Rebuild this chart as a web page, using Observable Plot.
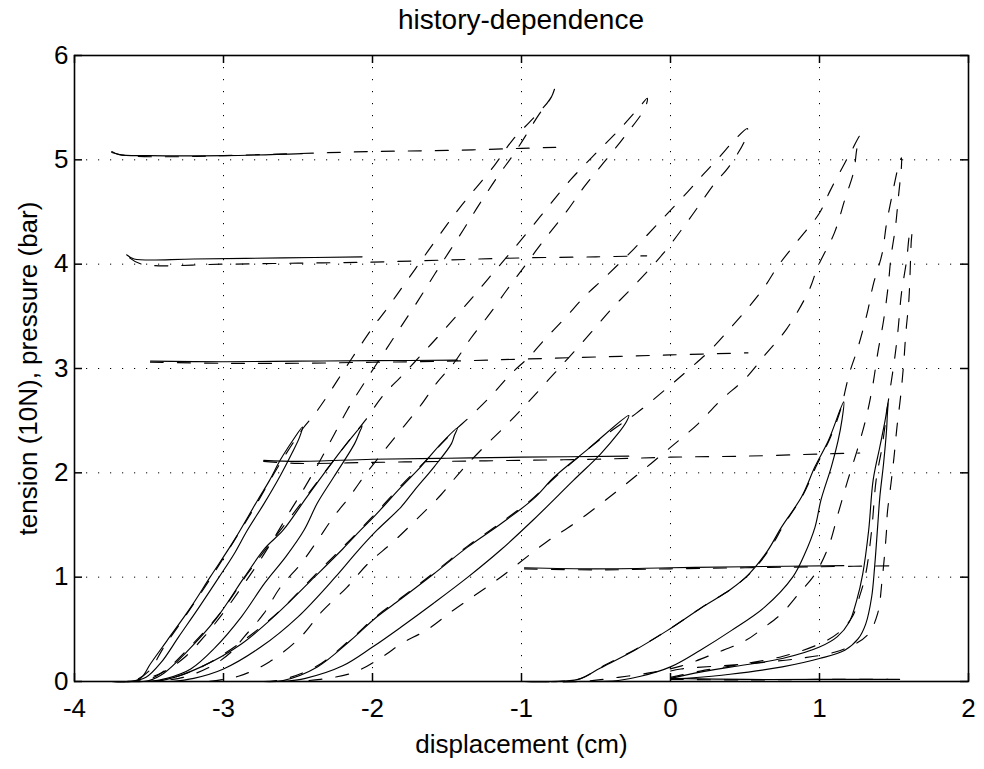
<!DOCTYPE html>
<html><head><meta charset="utf-8">
<script src="https://cdn.jsdelivr.net/npm/d3@7"></script>
<script src="https://cdn.jsdelivr.net/npm/@observablehq/plot@0.6"></script>
<style>
body{margin:0;background:#fff;font-family:"Liberation Sans",Arial,sans-serif;}
#title{position:relative;height:40px;width:984px;}
#title div{position:absolute;left:74px;width:894px;top:4px;text-align:center;font-size:28px;line-height:32px;color:#000;}
</style></head><body>
<div id="title"><div>history-dependence</div></div>
<div id="chart"></div>
<script>
// ---------- tick labels ----------
const xTicks = [-4, -3, -2, -1, 0, 1, 2];
const yTicks = [0, 1, 2, 3, 4, 5, 6];

// ---------- measured tension loops (solid) ----------
const tensionMeasured1 = [[-3.75,0.0],[-3.62,0.0],[-3.55,0.04],[-3.49,0.17],[-3.38,0.39],[-3.22,0.71],[-3.09,1.0],[-2.93,1.35],[-2.77,1.74],[-2.69,1.93],[-2.62,2.12],[-2.54,2.30],[-2.47,2.44],
  [-2.49,2.34],[-2.54,2.19],[-2.62,1.97],[-2.73,1.70],[-2.84,1.45],[-2.93,1.22],[-3.03,1.0],[-3.16,0.72],[-3.30,0.43],[-3.42,0.18],[-3.52,0.04],[-3.62,0.0]];
const tensionMeasured2 = [[-3.65,0.0],[-3.5,0.01],[-3.4,0.08],[-3.25,0.28],[-3.05,0.6],[-2.86,1.0],[-2.72,1.28],[-2.60,1.45],[-2.44,1.77],[-2.26,2.12],[-2.15,2.32],[-2.07,2.45],
  [-2.09,2.38],[-2.12,2.28],[-2.26,1.96],[-2.37,1.71],[-2.46,1.45],[-2.58,1.2],[-2.72,0.95],[-2.88,0.62],[-3.06,0.32],[-3.22,0.12],[-3.38,0.03],[-3.5,0.0]];
const tensionMeasured3 = [[-3.49,0.0],[-3.38,0.02],[-3.15,0.14],[-2.88,0.36],[-2.64,0.65],[-2.39,1.0],[-2.20,1.27],[-2.08,1.45],[-1.99,1.58],[-1.81,1.86],[-1.675,2.06],[-1.54,2.28],[-1.43,2.43],
  [-1.45,2.36],[-1.47,2.28],[-1.585,2.06],[-1.72,1.83],[-1.81,1.67],[-1.97,1.45],[-2.10,1.25],[-2.25,1.0],[-2.5,0.62],[-2.75,0.33],[-3.0,0.12],[-3.2,0.03],[-3.35,0.0]];
const tensionMeasured4 = [[-2.73,0.0],[-2.6,0.01],[-2.37,0.14],[-2.15,0.39],[-1.97,0.62],[-1.81,0.79],[-1.59,1.03],[-1.36,1.29],[-1.14,1.51],[-0.92,1.75],[-0.78,1.96],[-0.56,2.22],[-0.28,2.55],
  [-0.30,2.48],[-0.35,2.38],[-0.47,2.18],[-0.65,1.93],[-0.92,1.55],[-1.14,1.26],[-1.36,1.0],[-1.59,0.75],[-1.81,0.52],[-2.0,0.33],[-2.2,0.15],[-2.45,0.03],[-2.6,0.0]];
const tensionMeasured5 = [[-0.98,0.0],[-0.8,0.0],[-0.62,0.02],[-0.47,0.13],[-0.24,0.30],[-0.02,0.49],[0.21,0.71],[0.40,0.88],[0.52,1.02],[0.65,1.25],[0.745,1.48],[0.88,1.77],[0.97,2.06],[1.06,2.31],[1.163,2.68],
  [1.15,2.5],[1.125,2.31],[1.08,2.06],[1.01,1.74],[0.97,1.48],[0.9,1.22],[0.82,1.0],[0.63,0.71],[0.41,0.49],[0.2,0.3],[0.0,0.14],[-0.2,0.05],[-0.35,0.01],[-0.6,0.0]];
const tensionMeasured6 = [[0.0,0.03],[0.2,0.09],[0.41,0.14],[0.75,0.22],[1.0,0.33],[1.12,0.43],[1.2,0.57],[1.25,0.78],[1.29,1.03],[1.33,1.45],[1.36,1.93],[1.405,2.25],[1.44,2.50],[1.46,2.67],
  [1.455,2.55],[1.45,2.41],[1.43,2.09],[1.405,1.77],[1.39,1.48],[1.37,1.1],[1.35,0.81],[1.31,0.55],[1.26,0.41],[1.17,0.3],[1.0,0.22],[0.75,0.14],[0.4,0.07],[0.1,0.03],[0.0,0.02]];

// ---------- model tension loops (dashed) ----------
const tensionModel1 = [[-3.75,0.0],[-3.6,0.01],[-3.5,0.1],[-3.4,0.33],[-3.25,0.64],[-3.1,0.96],[-2.95,1.3],[-2.8,1.65],[-2.65,2.02],[-2.55,2.25],[-2.47,2.42],[-2.39,2.56],[-2.32,2.70],[-2.22,2.92],[-2.10,3.18],[-1.98,3.43],[-1.92,3.54],[-1.80,3.78],[-1.67,4.04],[-1.54,4.30],[-1.41,4.55],[-1.18,4.95],[-1.06,5.19],[-0.92,5.40],[-0.81,5.58],[-0.774,5.70],
  [-0.80,5.60],[-0.88,5.44],[-1.04,5.08],[-1.16,4.84],[-1.28,4.58],[-1.39,4.33],[-1.58,3.91],[-1.69,3.66],[-1.86,3.29],[-2.11,2.74],[-2.17,2.60],[-2.26,2.36],[-2.37,2.07],[-2.48,1.80],[-2.55,1.64],[-2.65,1.40],[-2.76,1.15],[-2.88,0.90],[-3.0,0.66],[-3.13,0.43],[-3.27,0.22],[-3.42,0.08],[-3.58,0.01],[-3.7,0.0]];
const tensionModel2 = [[-3.65,0.0],[-3.5,0.02],[-3.38,0.12],[-3.22,0.34],[-3.02,0.66],[-2.84,1.03],[-2.70,1.3],[-2.58,1.52],[-2.42,1.82],[-2.26,2.12],[-2.14,2.34],[-2.05,2.5],[-1.93,2.74],[-1.81,2.92],[-1.66,3.15],[-1.52,3.37],[-1.33,3.68],[-1.2,3.90],[-1.08,4.10],[-0.94,4.34],[-0.81,4.57],[-0.67,4.81],[-0.51,5.05],[-0.35,5.28],[-0.2,5.52],[-0.156,5.59],
  [-0.17,5.50],[-0.31,5.22],[-0.45,4.97],[-0.58,4.74],[-0.70,4.50],[-0.85,4.23],[-1.0,3.94],[-1.10,3.75],[-1.21,3.53],[-1.34,3.29],[-1.45,3.06],[-1.57,2.86],[-1.68,2.64],[-1.81,2.41],[-1.94,2.18],[-2.05,1.98],[-2.16,1.76],[-2.26,1.58],[-2.37,1.35],[-2.48,1.13],[-2.62,0.90],[-2.73,0.65],[-2.86,0.43],[-2.95,0.28],[-3.09,0.14],[-3.27,0.04],[-3.45,0.0]];
const tensionModel3 = [[-3.49,0.0],[-3.35,0.03],[-3.12,0.16],[-2.86,0.40],[-2.62,0.68],[-2.38,1.03],[-2.19,1.30],[-2.0,1.58],[-1.8,1.89],[-1.66,2.09],[-1.53,2.29],[-1.43,2.43],[-1.36,2.52],[-1.21,2.73],[-1.07,2.95],[-0.95,3.11],[-0.83,3.30],[-0.71,3.48],[-0.57,3.70],[-0.45,3.86],[-0.25,4.14],[-0.05,4.44],[0.12,4.70],[0.22,4.86],[0.33,5.03],[0.43,5.19],[0.516,5.3],
  [0.50,5.19],[0.385,4.92],[0.30,4.78],[0.12,4.42],[-0.05,4.10],[-0.24,3.80],[-0.39,3.58],[-0.53,3.35],[-0.68,3.11],[-0.82,2.89],[-0.96,2.67],[-1.10,2.46],[-1.25,2.25],[-1.41,2.01],[-1.54,1.79],[-1.70,1.56],[-1.86,1.34],[-2.03,1.13],[-2.17,0.905],[-2.34,0.67],[-2.48,0.43],[-2.69,0.19],[-2.9,0.05],[-3.1,0.0]];
const tensionModel4 = [[-2.73,0.0],[-2.6,0.02],[-2.37,0.15],[-2.15,0.40],[-1.97,0.63],[-1.81,0.80],[-1.59,1.04],[-1.36,1.30],[-1.14,1.52],[-0.92,1.76],[-0.78,1.95],[-0.56,2.22],[-0.38,2.42],[-0.23,2.57],[0.0,2.84],[0.13,3.0],[0.27,3.18],[0.41,3.40],[0.52,3.58],[0.63,3.78],[0.72,3.98],[0.857,4.23],[1.0,4.49],[1.07,4.70],[1.17,4.97],[1.22,5.10],[1.27,5.23],
  [1.25,5.10],[1.23,4.89],[1.17,4.62],[1.10,4.30],[0.99,3.98],[0.93,3.75],[0.78,3.38],[0.64,3.14],[0.50,2.90],[0.34,2.70],[0.185,2.47],[0.03,2.28],[-0.13,2.09],[-0.31,1.88],[-0.48,1.69],[-0.65,1.51],[-0.83,1.34],[-1.14,1.0],[-1.47,0.67],[-1.63,0.50],[-1.81,0.36],[-1.92,0.25],[-2.12,0.09],[-2.35,0.02],[-2.55,0.0]];
const tensionModel5 = [[-0.98,0.0],[-0.75,0.0],[-0.6,0.03],[-0.45,0.15],[-0.22,0.32],[0.0,0.51],[0.22,0.72],[0.42,0.90],[0.55,1.06],[0.67,1.28],[0.76,1.5],[0.89,1.79],[0.98,2.07],[1.07,2.33],[1.14,2.6],[1.20,2.95],[1.26,3.21],[1.32,3.53],[1.36,3.80],[1.42,4.10],[1.45,4.39],[1.49,4.68],[1.53,4.94],[1.55,5.02],
  [1.55,4.94],[1.53,4.65],[1.51,4.36],[1.48,4.07],[1.46,3.78],[1.43,3.46],[1.39,3.14],[1.36,2.86],[1.32,2.57],[1.26,2.25],[1.19,1.93],[1.125,1.61],[1.06,1.29],[0.97,1.03],[0.86,0.84],[0.745,0.65],[0.63,0.52],[0.50,0.39],[0.30,0.27],[0.075,0.15],[-0.11,0.09],[-0.35,0.04],[-0.6,0.0],[-0.9,0.0]];
const tensionModel6 = [[0.0,0.04],[0.2,0.1],[0.41,0.15],[0.75,0.24],[1.0,0.36],[1.13,0.47],[1.22,0.62],[1.27,0.82],[1.31,1.03],[1.35,1.45],[1.38,1.93],[1.42,2.25],[1.46,2.67],[1.50,3.05],[1.525,3.34],[1.55,3.72],[1.585,4.04],[1.607,4.30],[1.62,4.33],
  [1.615,4.20],[1.60,3.66],[1.58,3.35],[1.565,3.05],[1.545,2.74],[1.52,2.44],[1.50,2.15],[1.48,1.90],[1.455,1.61],[1.45,1.45],[1.42,0.97],[1.39,0.65],[1.33,0.46],[1.24,0.36],[1.10,0.28],[0.86,0.22],[0.52,0.17],[0.07,0.12],[0.0,0.1]];

// ---------- measured pressure (solid) ----------
const pressureMeasured1 = [[-3.75,5.08],[-3.7,5.05],[-3.5,5.04],[-3.0,5.04],[-2.47,5.06]];
const pressureMeasured2 = [[-3.65,4.09],[-3.6,4.05],[-3.2,4.05],[-2.6,4.06],[-2.07,4.07]];
const pressureMeasured3 = [[-3.49,3.07],[-3.0,3.065],[-2.5,3.07],[-2.0,3.075],[-1.43,3.08]];
const pressureMeasured4 = [[-2.73,2.12],[-2.5,2.11],[-2.0,2.13],[-1.5,2.14],[-1.0,2.15],[-0.28,2.16]];
const pressureMeasured5 = [[-0.98,1.09],[-0.5,1.08],[0.0,1.09],[0.5,1.10],[1.163,1.11]];
const pressureMeasured6 = [[0.0,0.03],[0.5,0.02],[1.0,0.02],[1.46,0.02]];

// ---------- model pressure (dashed) ----------
const pressureModel1 = [[-3.75,5.07],[-3.65,5.04],[-3.3,5.03],[-3.0,5.04],[-2.5,5.06],[-2.0,5.08],[-1.5,5.09],[-1.0,5.11],[-0.77,5.12]];
const pressureModel2 = [[-3.63,4.06],[-3.55,4.0],[-3.0,4.0],[-2.5,4.01],[-2.0,4.02],[-1.5,4.04],[-1.0,4.06],[-0.5,4.07],[-0.16,4.08]];
const pressureModel3 = [[-3.49,3.06],[-3.0,3.05],[-2.5,3.05],[-2.0,3.06],[-1.5,3.07],[-1.0,3.09],[-0.5,3.11],[0.0,3.13],[0.52,3.15]];
const pressureModel4 = [[-2.73,2.11],[-2.5,2.09],[-2.0,2.10],[-1.5,2.11],[-1.0,2.12],[-0.5,2.13],[0.0,2.15],[0.5,2.16],[1.0,2.18],[1.27,2.19]];
const pressureModel5 = [[-0.98,1.08],[-0.5,1.07],[0.0,1.08],[0.5,1.09],[1.0,1.10],[1.55,1.11]];
const pressureModel6 = [[0.0,0.02],[0.5,0.015],[1.0,0.02],[1.62,0.02]];

const solidCurves = {tensionMeasured1, tensionMeasured2, tensionMeasured3, tensionMeasured4, tensionMeasured5, tensionMeasured6,
  pressureMeasured1, pressureMeasured2, pressureMeasured3, pressureMeasured4, pressureMeasured5, pressureMeasured6};
const dashedCurves = {tensionModel1, tensionModel2, tensionModel3, tensionModel4, tensionModel5, tensionModel6,
  pressureModel1, pressureModel2, pressureModel3, pressureModel4, pressureModel5, pressureModel6};

const toRows = obj => Object.entries(obj).flatMap(([name, pts]) => pts.map(([x, y]) => ({x, y, curve: name})));
const solidRows = toRows(solidCurves);
const dashedRows = toRows(dashedCurves);

const W = 984, H = 729, mL = 74, mR = 16, mT = 15, mB = 88;
const plotW = W - mL - mR, plotH = H - mT - mB;
const font = "'Liberation Sans', Arial, sans-serif";

const chart = Plot.plot({
  width: W, height: H,
  marginLeft: mL, marginRight: mR, marginTop: mT, marginBottom: mB,
  style: {fontFamily: font, fontSize: "26px", color: "#000", background: "#fff", overflow: "visible"},
  x: {domain: [-4, 2]},
  y: {domain: [0, 6]},
  marks: [
    Plot.gridX(xTicks.slice(1, -1), {stroke: "#000", strokeOpacity: 1, strokeWidth: 1, strokeDasharray: "1.2,10.8"}),
    Plot.gridY(yTicks.slice(1, -1), {stroke: "#000", strokeOpacity: 1, strokeWidth: 1, strokeDasharray: "1.2,10.8"}),
    Plot.line(dashedRows, {x: "x", y: "y", z: "curve", curve: "catmull-rom", stroke: "#000", strokeWidth: 1.15, strokeDasharray: "13,14"}),
    Plot.line(solidRows, {x: "x", y: "y", z: "curve", curve: "catmull-rom", stroke: "#000", strokeWidth: 1.15}),
    Plot.tickX(xTicks, {x: d => d, insetTop: plotH - 8, stroke: "#000", strokeWidth: 1.5}),
    Plot.tickX(xTicks, {x: d => d, insetBottom: plotH - 8, stroke: "#000", strokeWidth: 1.5}),
    Plot.tickY(yTicks, {y: d => d, insetRight: plotW - 8, stroke: "#000", strokeWidth: 1.5}),
    Plot.tickY(yTicks, {y: d => d, insetLeft: plotW - 8, stroke: "#000", strokeWidth: 1.5}),
    Plot.frame({stroke: "#000", strokeWidth: 1.6}),
    Plot.axisX(xTicks, {tickSize: 0, tickPadding: 17, tickFormat: d => String(d), label: null}),
    Plot.axisY(yTicks, {tickSize: 0, tickPadding: 6, tickFormat: d => String(d), label: null}),
    Plot.text(["displacement (cm)"], {text: d => d, frameAnchor: "bottom", textAnchor: "middle", dy: 63, lineAnchor: "middle", fontSize: 26}),
    Plot.text(["tension (10N), pressure (bar)"], {text: d => d, frameAnchor: "left", textAnchor: "middle", dx: -46, rotate: -90, lineAnchor: "middle", fontSize: 26})
  ]
});
document.getElementById("chart").appendChild(chart);
</script></body></html>
